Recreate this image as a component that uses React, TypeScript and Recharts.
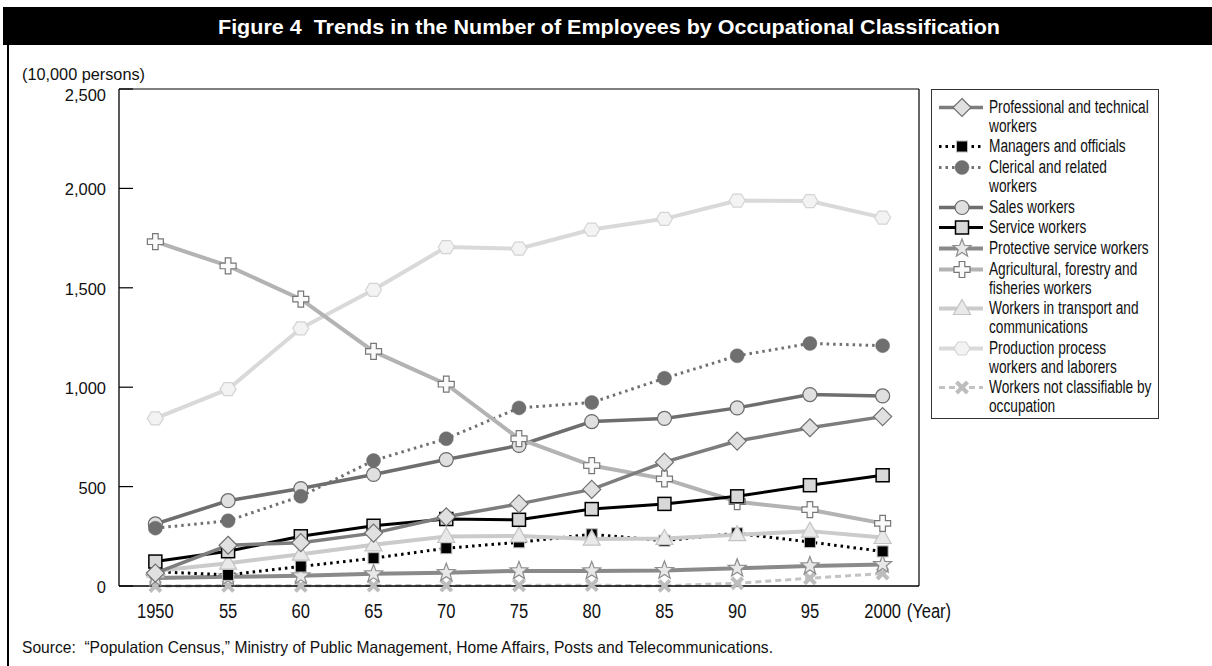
import React from 'react';
import { LineChart, Line, XAxis, YAxis, Legend } from 'recharts';

const years = [1950, 1955, 1960, 1965, 1970, 1975, 1980, 1985, 1990, 1995, 2000];
const yearLabels = ['1950', '55', '60', '65', '70', '75', '80', '85', '90', '95', '2000'];
const bandEdges = [1952.5, 1957.5, 1962.5, 1967.5, 1972.5, 1977.5, 1982.5, 1987.5, 1992.5, 1997.5];
const yTicks = [0, 500, 1000, 1500, 2000, 2500];

const professional = [65, 205, 218, 266, 348, 413, 486, 623, 729, 796, 852];
const managers = [72, 56, 98, 140, 190, 220, 260, 228, 265, 221, 174];
const clerical = [291, 328, 451, 631, 741, 896, 923, 1045, 1158, 1220, 1209];
const sales = [312, 429, 490, 561, 636, 707, 827, 843, 896, 963, 956];
const service = [123, 175, 250, 303, 337, 333, 387, 413, 451, 507, 557];
const protective = [40, 46, 51, 61, 67, 76, 76, 78, 89, 101, 108];
const agricultural = [1732, 1610, 1443, 1180, 1015, 741, 606, 539, 424, 384, 315];
const transport = [75, 115, 160, 207, 249, 252, 236, 239, 258, 276, 244];
const production = [843, 990, 1296, 1490, 1705, 1697, 1793, 1847, 1939, 1936, 1853];
const notClassifiable = [0, 1, 1, 2, 2, 3, 4, 1, 14, 39, 63];

const legendLabels = [
  ['Professional and technical', 'workers'],
  ['Managers and officials'],
  ['Clerical and related', 'workers'],
  ['Sales workers'],
  ['Service workers'],
  ['Protective service workers'],
  ['Agricultural, forestry and', 'fisheries workers'],
  ['Workers in transport and', 'communications'],
  ['Production process', 'workers and laborers'],
  ['Workers not classifiable by', 'occupation'],
];

const titleText = 'Figure 4  Trends in the Number of Employees by Occupational Classification';
const unitText = '(10,000 persons)';
const sourceText = 'Source:  \u201cPopulation Census,\u201d Ministry of Public Management, Home Affairs, Posts and Telecommunications.';

const data = years.map((year, i) => ({
  year,
  professional: professional[i],
  managers: managers[i],
  clerical: clerical[i],
  sales: sales[i],
  service: service[i],
  protective: protective[i],
  agricultural: agricultural[i],
  transport: transport[i],
  production: production[i],
  notClassifiable: notClassifiable[i],
}));

type Style = { stroke: string; width: number; dash?: string; marker: string };

const styles: Record<string, Style> = {
  professional: { stroke: '#7d7d7d', width: 3.5, marker: 'diamond' },
  managers: { stroke: '#000000', width: 3, dash: '2.5 4', marker: 'blacksquare' },
  clerical: { stroke: '#707070', width: 3, dash: '2.5 4', marker: 'darkcircle' },
  sales: { stroke: '#6e6e6e', width: 3.5, marker: 'lightcircle' },
  service: { stroke: '#000000', width: 3, marker: 'square' },
  protective: { stroke: '#8a8a8a', width: 4, marker: 'star' },
  agricultural: { stroke: '#b3b3b3', width: 4, marker: 'plus' },
  transport: { stroke: '#cbcbcb', width: 4, marker: 'triangle' },
  production: { stroke: '#d9d9d9', width: 4, marker: 'hexagon' },
  notClassifiable: { stroke: '#c3c3c3', width: 3, dash: '6 4', marker: 'cross' },
};

const legendOrder = ['professional', 'managers', 'clerical', 'sales', 'service', 'protective', 'agricultural', 'transport', 'production', 'notClassifiable'];
const drawOrder = ['production', 'notClassifiable', 'protective', 'managers', 'transport', 'sales', 'clerical', 'agricultural', 'service', 'professional'];

const SANS = "'Liberation Sans', Arial, sans-serif";

function Marker({ kind, cx, cy }: { kind: string; cx: number; cy: number }) {
  if (cx == null || cy == null) return null;
  switch (kind) {
    case 'diamond':
      return <polygon points={`${cx},${cy - 9} ${cx + 9},${cy} ${cx},${cy + 9} ${cx - 9},${cy}`} fill="#e0e0e0" stroke="#6f6f6f" strokeWidth={1.2} />;
    case 'blacksquare':
      return <rect x={cx - 5.5} y={cy - 5.5} width={11} height={11} fill="#000" stroke="#bdbdbd" strokeWidth={1} />;
    case 'darkcircle':
      return <circle cx={cx} cy={cy} r={7} fill="#6f6f6f" stroke="#6f6f6f" strokeWidth={0.5} />;
    case 'lightcircle':
      return <circle cx={cx} cy={cy} r={7} fill="#e0e0e0" stroke="#6a6a6a" strokeWidth={1.2} />;
    case 'square':
      return <rect x={cx - 6.5} y={cy - 6.5} width={13} height={13} fill="#d8d8d8" stroke="#000" strokeWidth={1.5} />;
    case 'star': {
      const pts: string[] = [];
      for (let k = 0; k < 10; k++) {
        const r = k % 2 === 0 ? 9.5 : 4;
        const a = -Math.PI / 2 + (k * Math.PI) / 5;
        pts.push(`${cx + r * Math.cos(a)},${cy + r * Math.sin(a)}`);
      }
      return <polygon points={pts.join(' ')} fill="#e8e8e8" stroke="#8c8c8c" strokeWidth={1.2} />;
    }
    case 'plus': {
      const a = 2.8, b = 8;
      const p = [
        [-a, -b], [a, -b], [a, -a], [b, -a], [b, a], [a, a], [a, b], [-a, b], [-a, a], [-b, a], [-b, -a], [-a, -a],
      ].map(([x, y]) => `${cx + x},${cy + y}`).join(' ');
      return <polygon points={p} fill="#fafafa" stroke="#777" strokeWidth={1.2} />;
    }
    case 'triangle':
      return <polygon points={`${cx},${cy - 9} ${cx + 8.5},${cy + 6} ${cx - 8.5},${cy + 6}`} fill="#e9e9e9" stroke="#c4c4c4" strokeWidth={1.2} />;
    case 'hexagon':
      return <polygon points={`${cx - 8},${cy} ${cx - 4},${cy - 6.5} ${cx + 4},${cy - 6.5} ${cx + 8},${cy} ${cx + 4},${cy + 6.5} ${cx - 4},${cy + 6.5}`} fill="#f3f3f3" stroke="#d4d4d4" strokeWidth={1.2} />;
    case 'cross':
      return (
        <g stroke="#bdbdbd" strokeWidth={4}>
          <line x1={cx - 5.5} y1={cy - 5.5} x2={cx + 5.5} y2={cy + 5.5} />
          <line x1={cx - 5.5} y1={cy + 5.5} x2={cx + 5.5} y2={cy - 5.5} />
        </g>
      );
    default:
      return null;
  }
}

function XTick(props: any) {
  const { x, y, payload } = props;
  const idx = years.indexOf(payload.value);
  const label = idx >= 0 ? yearLabels[idx] : String(payload.value);
  return (
    <g>
      <g transform={`translate(${x},${y + 31}) scale(0.85,1)`}>
        <text x={0} y={0} textAnchor="middle" fontFamily={SANS} fontSize={19.5} fill="#111">{label}</text>
      </g>
      {idx === years.length - 1 && (
        <g transform={`translate(${x + 24},${y + 31}) scale(0.85,1)`}>
          <text x={0} y={0} textAnchor="start" fontFamily={SANS} fontSize={19.5} fill="#111">(Year)</text>
        </g>
      )}
    </g>
  );
}

function YTick(props: any) {
  const { x, y, payload } = props;
  const shift = payload.value === yTicks[yTicks.length - 1] ? 6 : 1;
  return (
    <text x={x} y={y + shift} dy="0.36em" textAnchor="end" fontFamily={SANS} fontSize={16.5} fill="#111">
      {payload.value.toLocaleString('en-US')}
    </text>
  );
}

function LegendContent() {
  return (
    <div style={{ border: '1px solid #333', background: '#fff', padding: '8px 0 0 6px', fontFamily: SANS, fontSize: 18, lineHeight: '18.8px', color: '#111', boxSizing: 'border-box', width: 228, overflow: 'hidden' }}>
      {legendOrder.map((k, i) => {
        const s = styles[k];
        return (
          <div key={k} style={{ display: 'flex', alignItems: 'flex-start', marginBottom: 1.8 }}>
            <svg width={48} height={19} style={{ flex: 'none', overflow: 'visible' }}>
              <line x1={1} y1={9.5} x2={45} y2={9.5} stroke={s.stroke} strokeWidth={s.width} strokeDasharray={s.dash} />
              <Marker kind={s.marker} cx={24} cy={9.5} />
            </svg>
            <div style={{ marginLeft: 3, whiteSpace: 'nowrap', flex: 'none', width: 170 }}>
              {legendLabels[i].map((t, j) => (
                <div key={j} style={{ transform: 'scaleX(0.76)', transformOrigin: 'left center', width: 230 }}>{t}</div>
              ))}
            </div>
          </div>
        );
      })}
    </div>
  );
}

export default function App() {
  return (
    <div style={{ position: 'absolute', left: 0, top: 0, width: 1212, height: 666, background: '#fff', overflow: 'hidden' }}>
      <svg width={1212} height={666} style={{ position: 'absolute', left: 0, top: 0 }}>
        <rect x={3} y={7} width={1209} height={38} fill="#000" />
        <rect x={7} y={45} width={2} height={621} fill="#000" />
        <text x={609} y={33.5} textAnchor="middle" fontFamily={SANS} fontWeight="bold" fontSize={21} fill="#fff" textLength={782} lengthAdjust="spacingAndGlyphs" style={{ whiteSpace: 'pre' }}>{titleText}</text>
        <text x={22} y={80} fontFamily={SANS} fontSize={17} fill="#111" textLength={123} lengthAdjust="spacingAndGlyphs">{unitText}</text>
        <text x={22} y={653} fontFamily={SANS} fontSize={16.5} fill="#111" textLength={751} lengthAdjust="spacingAndGlyphs" style={{ whiteSpace: 'pre' }}>{sourceText}</text>
      </svg>
      <div style={{ position: 'absolute', left: 0, top: 0 }}>
        <LineChart width={1212} height={666} data={data} margin={{ top: 88, right: 292, bottom: 39, left: 59 }}>
          <XAxis xAxisId="grid" dataKey="year" type="number" domain={[1947.5, 2002.5]} allowDataOverflow ticks={bandEdges} interval={0} tick={false} tickSize={-12} height={1} axisLine={{ stroke: '#000', strokeWidth: 1.3 }} tickLine={{ stroke: '#000', strokeWidth: 1.2 }} />
          <XAxis xAxisId="main" dataKey="year" type="number" domain={[1947.5, 2002.5]} allowDataOverflow ticks={years} interval={0} tickLine={false} axisLine={false} tickSize={0} tickMargin={0} height={40} tick={<XTick />} />
          <XAxis xAxisId="top" orientation="top" dataKey="year" type="number" domain={[1947.5, 2002.5]} allowDataOverflow tick={false} tickLine={false} height={1} axisLine={{ stroke: '#000', strokeWidth: 1.2 }} />
          <YAxis yAxisId="left" type="number" domain={[0, 2500]} ticks={yTicks} interval={0} tickSize={-14} tickMargin={27} width={60} tick={<YTick />} axisLine={{ stroke: '#000', strokeWidth: 1.3 }} tickLine={{ stroke: '#000', strokeWidth: 1.2 }} />
          <YAxis yAxisId="right" orientation="right" type="number" domain={[0, 2500]} tick={false} tickLine={false} width={1} axisLine={{ stroke: '#000', strokeWidth: 1.2 }} />
          <Legend layout="vertical" align="center" verticalAlign="middle" wrapperStyle={{ left: 931, top: 89, width: 228 }} content={<LegendContent />} />
          {drawOrder.map((k) => {
            const s = styles[k];
            return (
              <Line
                key={k}
                xAxisId="main"
                yAxisId="left"
                type="linear"
                dataKey={k}
                stroke={s.stroke}
                strokeWidth={s.width}
                strokeDasharray={s.dash}
                isAnimationActive={false}
                dot={(p: any) => (
                  <g key={`${k}-${p.index}`}>
                    <Marker kind={s.marker} cx={p.cx} cy={p.cy} />
                  </g>
                )}
                activeDot={false}
              />
            );
          })}
        </LineChart>
      </div>
    </div>
  );
}
